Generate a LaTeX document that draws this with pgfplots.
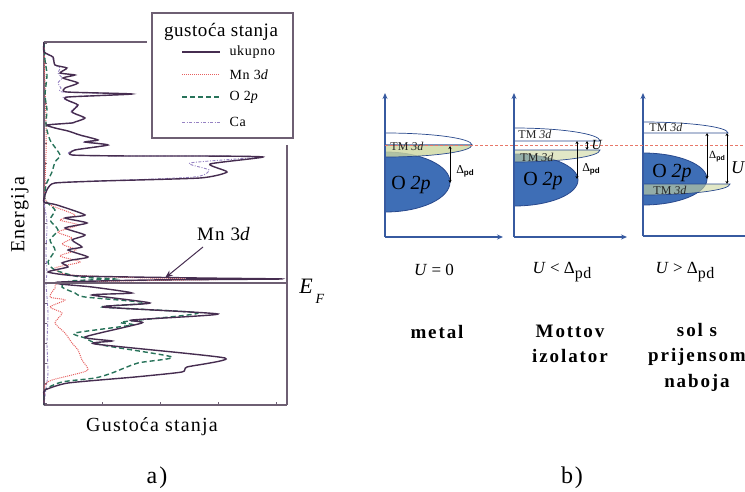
\documentclass[border=0pt]{standalone}
\usepackage{fontspec}
\setmainfont{Liberation Serif}
\setsansfont{Liberation Sans}
\usepackage{pgfplots}
\pgfplotsset{compat=1.18}
\usetikzlibrary{arrows.meta}

\definecolor{frame}{RGB}{110,95,115}
\definecolor{tot}{RGB}{70,45,80}
\definecolor{mn}{RGB}{230,95,95}
\definecolor{ox}{RGB}{40,115,90}
\definecolor{ca}{RGB}{150,130,195}
\definecolor{bfill}{RGB}{62,110,182}
\definecolor{bline}{RGB}{40,72,140}
\definecolor{gfill}{RGB}{205,215,160}
\definecolor{axb}{RGB}{55,90,160}
\definecolor{efl}{RGB}{232,120,105}

\newcommand{\ls}[1]{\addfontfeature{LetterSpace=#1}}
\newcommand{\fs}[1]{\fontsize{#1}{#1}\selectfont}
\newcommand{\dpd}{{\fs{12}Δ}\raisebox{-2pt}{\sffamily\bfseries\fs{8}pd}}
\newcommand{\dpds}{{\fs{11}Δ}\raisebox{-2pt}{\sffamily\bfseries\fs{7}pd}}
\newcommand{\dpdbig}{Δ\raisebox{-5pt}{\fs{16}\ls{4}pd}}

\begin{document}
\begin{tikzpicture}[x=1pt,y=1pt]
\useasboundingbox (0,0) rectangle (745,491);
\clip (0,0) rectangle (745,491);

% ---------------- panel a ----------------
\begin{axis}[at={(44,86)}, anchor=south west, scale only axis,
  width=243pt, height=363pt,
  xmin=0, xmax=243, ymin=-122, ymax=241,
  axis x line*=bottom, axis y line*=left,
  axis line style={frame, line width=1.2pt, -},
  xtick={0,58,116,174,232}, ytick={-120,-100,...,240},
  xticklabels={}, yticklabels={},
  tick align=inside, major tick length=3pt,
  tick style={frame, line width=0.8pt},
  clip=false]

\addplot[ca, line width=0.9pt, dash pattern=on 3pt off 1.5pt on 1pt off 1.5pt, smooth, tension=0.4] coordinates {
(0,241)(0,231)(8,226)(11,218)(16,215)(14,210)(18,205)(14,200)(17,195)(19,191)(80,189)(22,186)(22,183)(33,178)(27,171)(40,165)(30,161)(27,160)(3,158)(11,155)(24,152)(35,148)(53,143)(40,141)(63,138)(30,133)(27,128)(86,127)(156,127)(215,126)(146,120)(165,113)(150,106)(56,102)(11,100)(4,95)(1,88)(0,81)(3,60)(2,30)(3,10)(2,0)(4,-30)(3,-60)(4,-90)(2,-105)(0,-122)};

\addplot[mn, line width=1pt, densely dotted, smooth, tension=0.4] coordinates {
(0,241)(1,200)(2,160)(2,130)(1,100)(1,85)(6,78)(31,68)(16,63)(34,58)(14,51)(28,45)(18,39)(32,33)(16,27)(36,21)(11,15)(26,8)(106,5)(198,4)(76,2)(16,0)(11,-5)(6,-14)(21,-17)(6,-24)(18,-30)(11,-40)(21,-50)(28,-60)(34,-67)(38,-77)(44,-87)(28,-92)(8,-97)(1,-102)(0,-122)};

\addplot[ox, line width=1.4pt, dash pattern=on 5pt off 3pt, smooth, tension=0.4] coordinates {
(0,241)(1,223)(3,208)(1,188)(3,173)(2,158)(6,143)(16,128)(11,121)(8,111)(2,98)(1,83)(11,73)(6,63)(14,53)(6,43)(11,33)(4,21)(11,13)(36,6)(71,4)(26,2)(18,-4)(31,-10)(41,-14)(104,-20)(58,-24)(154,-30)(78,-39)(88,-42)(31,-50)(41,-55)(58,-62)(128,-74)(94,-80)(68,-90)(51,-95)(18,-99)(1,-107)(0,-122)};

\addplot[tot, line width=1.4pt, smooth, tension=0.35] coordinates {
(0,241)(0,231)(9,226)(11,218)(23,215)(16,210)(31,208)(19,205)(34,200)(21,195)(23,191)(88,189)(24,186)(23,183)(34,178)(28,171)(41,165)(31,161)(28,160)(3,158)(11,155)(24,152)(36,148)(54,143)(41,141)(64,138)(31,133)(28,128)(86,127)(156,127)(219,126)(166,119)(183,111)(156,105)(56,102)(11,100)(4,95)(1,88)(0,81)(13,78)(41,68)(21,65)(43,60)(21,55)(41,48)(28,43)(38,36)(24,33)(44,26)(28,23)(18,20)(24,16)(4,11)(36,7)(156,5)(238,4)(106,3)(16,1)(16,-1)(48,-4)(88,-10)(48,-12)(106,-20)(59,-24)(174,-31)(88,-37)(98,-40)(41,-54)(68,-58)(51,-61)(181,-75)(143,-84)(138,-89)(91,-94)(24,-100)(1,-107)(0,-112)(0,-122)};

\draw[frame, line width=1.2pt] (axis cs:0,241) -- (axis cs:103,241);
\draw[frame, line width=1.2pt] (axis cs:243,138) -- (axis cs:243,-122);
\draw[frame, line width=1.2pt] (axis cs:0,0) -- (axis cs:243,0);
\node at (axis cs:262,-3) {\fs{22}\textit{E}};
\node at (axis cs:276,-16) {\fs{14}\textit{F}};
\node at (axis cs:180,49) {\fs{19}\ls{6}Mn 3\textit{d}};
\draw[tot, line width=1pt, -{Stealth[length=8pt,width=6pt]}] (axis cs:159,36) -- (axis cs:121,5);
\end{axis}

% legend of panel a
\draw[frame, line width=1.2pt, fill=white] (152,478) rectangle (293,353);
\node at (221,459) {\fs{19}\ls{3}gustoća stanja};
\draw[tot, line width=1.4pt] (182,439) -- (220,439);
\draw[mn, line width=1pt, densely dotted] (182,416) -- (220,416);
\draw[ox, line width=1.4pt, dash pattern=on 5pt off 3pt] (182,394) -- (220,394);
\draw[ca, line width=0.9pt, dash pattern=on 3pt off 1.5pt on 1pt off 1.5pt] (182,369) -- (220,369);
\node[anchor=west] at (226,439) {\fs{14}\ls{5}ukupno};
\node[anchor=west] at (226,416) {\fs{14}\ls{5}Mn 3\textit{d}};
\node[anchor=west] at (226,394) {\fs{14}\ls{5}O 2\textit{p}};
\node[anchor=west] at (226,369) {\fs{14}\ls{5}Ca};

\node[rotate=90] at (20,276) {\fs{20}\ls{6}Energija};
\node at (152,64) {\fs{20}\ls{6}Gustoća stanja};
\node at (157,13) {\fs{24}\ls{8}a)};
\node at (572,13) {\fs{24}\ls{8}b)};

% ---------------- panel b ----------------
\begin{axis}[at={(370,241)}, anchor=south west, x=1pt, y=1pt,
  xmin=370, xmax=745, ymin=-250, ymax=-80, hide axis, clip=false]
% subpanel 1
\filldraw[fill=bfill, draw=bline, line width=0.8pt] (axis cs:385,-152) arc[start angle=90, end angle=-90, x radius=65pt, y radius=30pt] -- cycle;
\filldraw[fill=white, draw=bline, line width=0.7pt] (axis cs:385,-133) arc[start angle=90, end angle=0, x radius=87pt, y radius=12pt] -- (axis cs:385,-145) -- cycle;
\filldraw[fill=gfill, fill opacity=0.8, draw=bline, line width=0.7pt] (axis cs:472,-145) arc[start angle=0, end angle=-90, x radius=87pt, y radius=12pt] -- (axis cs:385,-145) -- cycle;
% subpanel 2
\filldraw[fill=bfill, draw=bline, line width=0.8pt] (axis cs:514,-154) arc[start angle=90, end angle=-90, x radius=64pt, y radius=26pt] -- cycle;
\filldraw[fill=white, draw=bline, line width=0.7pt] (axis cs:514,-128) arc[start angle=90, end angle=0, x radius=86pt, y radius=13pt] -- (axis cs:514,-141) -- cycle;
\filldraw[fill=gfill, fill opacity=0.6, draw=bline, line width=0.7pt] (axis cs:514,-150) -- (axis cs:600,-150) arc[start angle=0, end angle=-90, x radius=86pt, y radius=12pt] -- cycle;
% subpanel 3
\filldraw[fill=white, draw=bline, line width=0.7pt] (axis cs:643,-122) arc[start angle=90, end angle=0, x radius=85pt, y radius=11pt] -- (axis cs:643,-133) -- cycle;
\filldraw[fill=bfill, draw=bline, line width=0.8pt] (axis cs:643,-153) arc[start angle=90, end angle=-90, x radius=64pt, y radius=26pt] -- cycle;
\filldraw[fill=gfill, fill opacity=0.6, draw=bline, line width=0.7pt] (axis cs:643,-184) -- (axis cs:730,-184) arc[start angle=0, end angle=-90, x radius=87pt, y radius=11pt] -- cycle;

% axes arrows
\draw[axb, line width=1.3pt, -{Stealth[length=6pt,width=5pt]}] (axis cs:385,-237) -- (axis cs:385,-93);
\draw[axb, line width=1.3pt, -{Stealth[length=6pt,width=5pt]}] (axis cs:385,-237) -- (axis cs:503,-237);
\draw[axb, line width=1.3pt, -{Stealth[length=6pt,width=5pt]}] (axis cs:514,-237) -- (axis cs:514,-93);
\draw[axb, line width=1.3pt, -{Stealth[length=6pt,width=5pt]}] (axis cs:514,-237) -- (axis cs:627,-237);
\draw[axb, line width=1.3pt, -{Stealth[length=6pt,width=5pt]}] (axis cs:643,-236) -- (axis cs:643,-93);
\draw[axb, line width=1.3pt] (axis cs:643,-236) -- (axis cs:760,-236);

% Fermi level
\draw[efl, line width=0.9pt, dash pattern=on 3pt off 2pt] (axis cs:385,-145) -- (axis cs:745,-145);

% arrows
\draw[black, line width=0.6pt, {Stealth[length=3pt,width=3pt]}-{Stealth[length=3pt,width=3pt]}] (axis cs:450,-146) -- (axis cs:450,-183);
\draw[black, line width=0.6pt, {Stealth[length=3pt,width=3pt]}-{Stealth[length=3pt,width=3pt]}] (axis cs:587,-141) -- (axis cs:587,-150);
\draw[black, line width=0.6pt, {Stealth[length=3pt,width=3pt]}-{Stealth[length=3pt,width=3pt]}] (axis cs:577,-141) -- (axis cs:577,-179);
\draw[black, line width=0.6pt, {Stealth[length=3pt,width=3pt]}-{Stealth[length=3pt,width=3pt]}] (axis cs:707,-133) -- (axis cs:707,-179);
\draw[black, line width=0.6pt, {Stealth[length=3pt,width=3pt]}-{Stealth[length=3pt,width=3pt]}] (axis cs:727,-133) -- (axis cs:727,-184);

% texts in the schematic
\node at (axis cs:465,-171) {\dpd};
\node at (axis cs:591,-169) {\dpd};
\node[inner sep=0pt] at (axis cs:717,-157) {\dpds};
\node at (axis cs:597,-145) {\fs{14}\textit{U}};
\node at (axis cs:738,-168) {\fs{18}\textit{U}};
\node[text=black!85] at (axis cs:407,-146) {\fs{12}TM \textit{3d}};
\node[text=black!85] at (axis cs:535,-134) {\fs{12}TM \textit{3d}};
\node[text=black!85] at (axis cs:537,-157) {\fs{12}TM \textit{3d}};
\node[text=black!85] at (axis cs:666,-127) {\fs{12}TM \textit{3d}};
\node[text=black!85] at (axis cs:670,-190) {\fs{12}TM \textit{3d}};
\node at (axis cs:411,-185) {\fs{20}O \textit{2p}};
\node at (axis cs:543,-181) {\fs{20}O \textit{2p}};
\node at (axis cs:672,-173) {\fs{20}O \textit{2p}};

% labels below
\node at (axis cs:434,-270) {\fs{17}\textit{U} = 0};
\node at (axis cs:562,-272) {\fs{17}\textit{U} < \dpdbig};
\node at (axis cs:685,-272) {\fs{17}\textit{U} > \dpdbig};
\node[font=\fontsize{19}{25.5}\selectfont\bfseries\ls{10}] at (axis cs:437,-332) {metal};
\node[align=center, font=\fontsize{19}{25.5}\selectfont\bfseries\ls{10}] at (axis cs:570,-344) {Mottov\\izolator};
\node[align=center, font=\fontsize{19}{25.5}\selectfont\bfseries\ls{10}] at (axis cs:697,-357) {sol s\\prijensom\\naboja};
\end{axis}
\end{tikzpicture}
\end{document}
